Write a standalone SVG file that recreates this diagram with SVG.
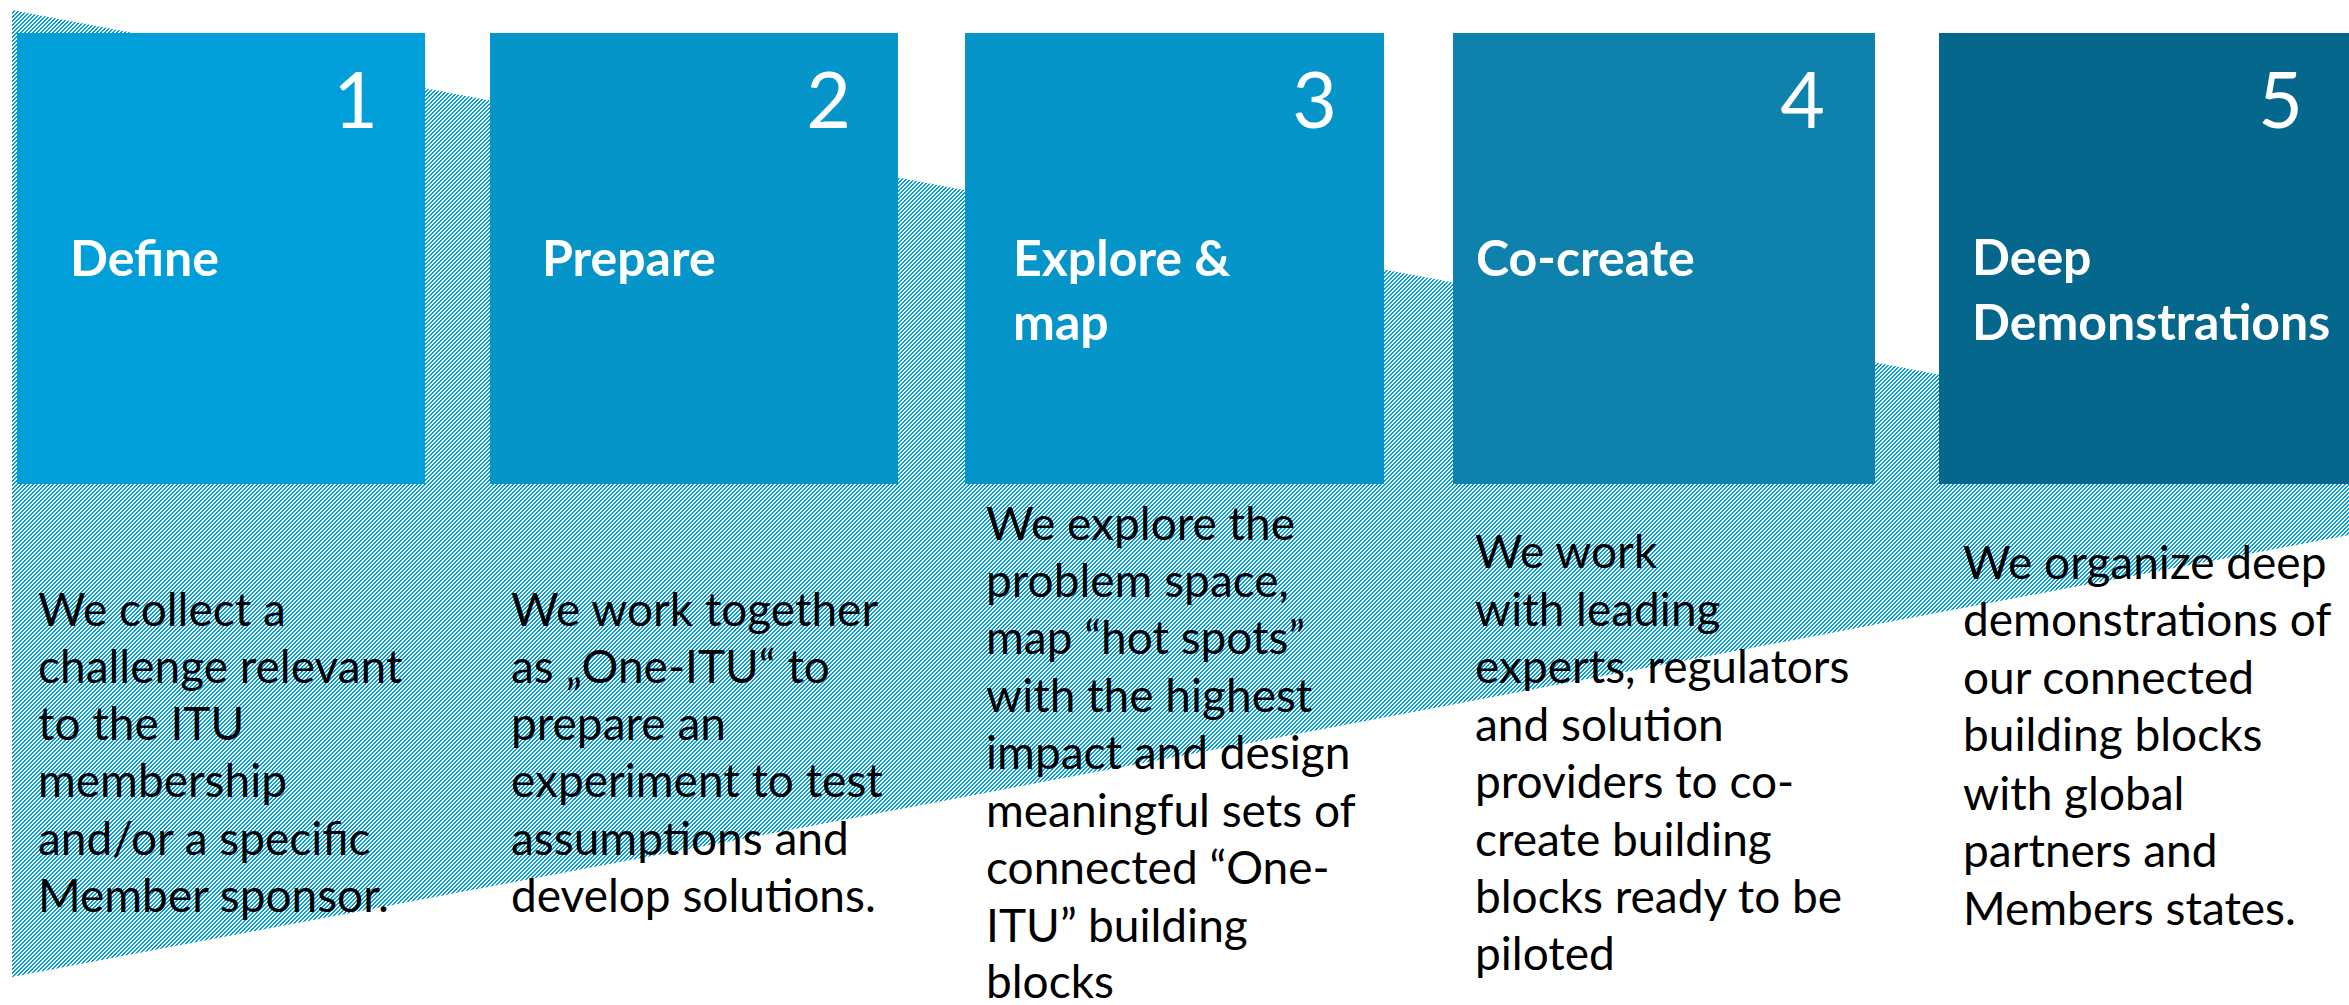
<svg xmlns="http://www.w3.org/2000/svg" width="2349" height="1005" viewBox="0 0 2349 1005">
<style>
.num{font-family:Lato,"Open Sans",sans-serif;font-size:77px;fill:#fff;text-anchor:end}
.ttl{font-family:Lato,"Open Sans",sans-serif;font-weight:bold;font-size:50px;fill:#fff}
.body{font-family:Lato,"Open Sans",sans-serif;font-size:46px;fill:#000}
</style>
<defs>
<pattern id="hatch" patternUnits="userSpaceOnUse" x="0" y="0" width="4" height="4" shape-rendering="crispEdges">
<rect x="0" y="0" width="4" height="4" fill="#fff"/>
<rect x="0" y="0" width="2" height="1" fill="#009fda"/>
<rect x="0" y="1" width="1" height="1" fill="#009fda"/>
<rect x="3" y="1" width="1" height="1" fill="#009fda"/>
<rect x="2" y="2" width="2" height="1" fill="#009fda"/>
<rect x="1" y="3" width="2" height="1" fill="#009fda"/>
</pattern>
</defs>
<rect width="2349" height="1005" fill="#fff"/>
<g id="band">
<polygon points="12,10 2349,452 2349,535 12,977" fill="url(#hatch)"/>
</g>
<g id="step1">
<rect x="17" y="33" width="408" height="451" fill="#009fda"/>
<text class="num" x="378" y="128">1</text>
<text class="ttl" x="70" y="276">Define</text>
<text class="body"><tspan x="38" y="626">We collect a</tspan><tspan x="38" y="683">challenge relevant</tspan><tspan x="38" y="740">to the ITU</tspan><tspan x="38" y="797">membership</tspan><tspan x="38" y="855">and/or a specific</tspan><tspan x="38" y="912">Member sponsor.</tspan></text>
</g>
<g id="step2">
<rect x="490" y="33" width="408" height="451" fill="#0595c8"/>
<text class="num" x="851" y="128">2</text>
<text class="ttl" x="542" y="276">Prepare</text>
<text class="body"><tspan x="511" y="626">We work together</tspan><tspan x="511" y="683">as „One-ITU“ to</tspan><tspan x="511" y="740">prepare an</tspan><tspan x="511" y="797">experiment to test</tspan><tspan x="511" y="855">assumptions and</tspan><tspan x="511" y="912">develop solutions.</tspan></text>
</g>
<g id="step3">
<rect x="965" y="33" width="419" height="451" fill="#0595c8"/>
<text class="num" x="1337" y="128">3</text>
<text class="ttl"><tspan x="1013" y="276">Explore &amp;</tspan><tspan x="1013" y="340">map</tspan></text>
<text class="body"><tspan x="986" y="540">We explore the</tspan><tspan x="986" y="597">problem space,</tspan><tspan x="986" y="654">map “hot spots”</tspan><tspan x="986" y="712">with the highest</tspan><tspan x="986" y="769">impact and design</tspan><tspan x="986" y="827">meaningful sets of</tspan><tspan x="986" y="884">connected “One-</tspan><tspan x="986" y="942">ITU” building</tspan><tspan x="986" y="998">blocks</tspan></text>
</g>
<g id="step4">
<rect x="1453" y="33" width="422" height="451" fill="#0e82ac"/>
<text class="num" x="1825" y="128">4</text>
<text class="ttl" x="1476" y="276">Co-create</text>
<text class="body"><tspan x="1475" y="568">We work</tspan><tspan x="1475" y="626">with leading</tspan><tspan x="1475" y="683">experts, regulators</tspan><tspan x="1475" y="741">and solution</tspan><tspan x="1475" y="798">providers to co-</tspan><tspan x="1475" y="856">create building</tspan><tspan x="1475" y="913">blocks ready to be</tspan><tspan x="1475" y="970">piloted</tspan></text>
</g>
<g id="step5">
<rect x="1939" y="33" width="410" height="451" fill="#06678c"/>
<text class="num" x="2303" y="128">5</text>
<text class="ttl"><tspan x="1972" y="275">Deep</tspan><tspan x="1972" y="340">Demonstrations</tspan></text>
<text class="body"><tspan x="1963" y="579">We organize deep</tspan><tspan x="1963" y="636">demonstrations of</tspan><tspan x="1963" y="694">our connected</tspan><tspan x="1963" y="751">building blocks</tspan><tspan x="1963" y="810">with global</tspan><tspan x="1963" y="867">partners and</tspan><tspan x="1963" y="925">Members states.</tspan></text>
</g>
<g id="connectors"/>
</svg>
